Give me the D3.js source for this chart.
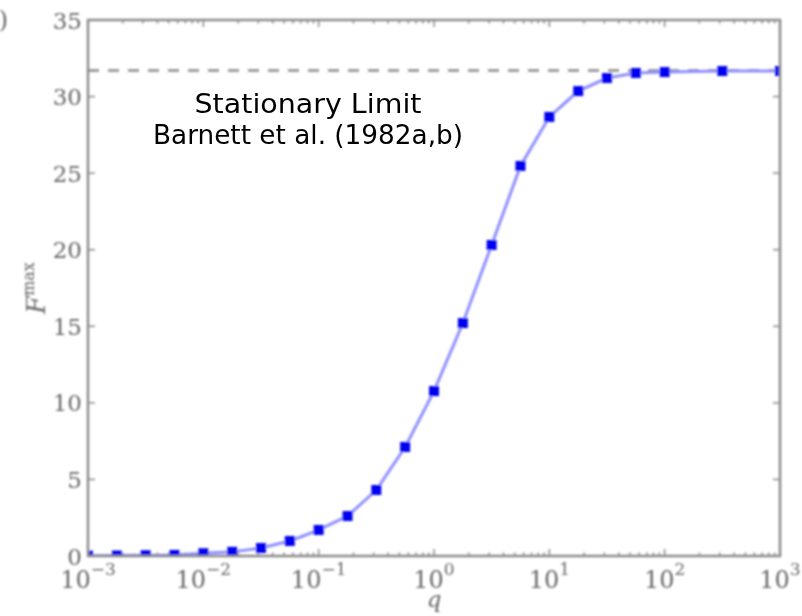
<!DOCTYPE html>
<html>
<head>
<meta charset="utf-8">
<script src="https://cdn.jsdelivr.net/npm/d3@7"></script>
<style>
  html, body { margin: 0; padding: 0; background: #fff; }
  svg { display: block; }
</style>
</head>
<body>
<svg id="chart" width="802" height="616"></svg>
<script>
// Mass ratio q and the maximum value F^max reached at each q
const qValues = [0.001, 0.00178, 0.00316, 0.00562, 0.01, 0.0178, 0.0316, 0.0562,
                 0.1, 0.178, 0.316, 0.562, 1, 1.78, 3.16, 5.62,
                 10, 17.8, 31.6, 56.2, 100, 316, 1000];
const fmaxValues = [0.02, 0.03, 0.05, 0.07, 0.18, 0.27, 0.52, 0.98,
                    1.70, 2.61, 4.31, 7.12, 10.77, 15.21, 20.31, 25.47,
                    28.67, 30.36, 31.21, 31.54, 31.60, 31.67, 31.67];
const stationaryLimit = 31.7;
const yTicks = [0, 5, 10, 15, 20, 25, 30, 35];
const xTickExponents = ["−3", "−2", "−1", "0", "1", "2", "3"];
const xTickValues = [1e-3, 1e-2, 1e-1, 1e0, 1e1, 1e2, 1e3];
const annotationLines = ["Stationary Limit", "Barnett et al. (1982a,b)"];

const svg = d3.select("#chart");
const margin = { left: 88, right: 22, top: 20, bottom: 60 };
const W = 802, H = 616;
const x0 = margin.left, x1 = W - margin.right, y0 = H - margin.bottom, y1 = margin.top;

const x = d3.scaleLog().domain([1e-3, 1e3]).range([x0, x1]);
const y = d3.scaleLinear().domain([0, 35]).range([y0, y1]);

const defs = svg.append("defs");
defs.append("filter").attr("id", "soft")
  .attr("x", "-5%").attr("y", "-5%").attr("width", "110%").attr("height", "110%")
  .append("feGaussianBlur").attr("stdDeviation", 0.9);
defs.append("clipPath").attr("id", "plotArea")
  .append("rect").attr("x", x0).attr("y", y1).attr("width", x1 - x0).attr("height", y0 - y1);

const g = svg.append("g").attr("filter", "url(#soft)");
const axisColor = "#8a8a8a";
const textColor = "#666";

// Minor log ticks (2..9 within each decade)
const minorTicks = [];
for (let e = -3; e < 3; e++) for (let m = 2; m <= 9; m++) minorTicks.push(m * Math.pow(10, e));

// Inward ticks on all four sides
const tickG = g.append("g").attr("stroke", axisColor).attr("stroke-width", 1.5);
xTickValues.forEach(v => {
  tickG.append("line").attr("x1", x(v)).attr("x2", x(v)).attr("y1", y0).attr("y2", y0 - 7);
  tickG.append("line").attr("x1", x(v)).attr("x2", x(v)).attr("y1", y1).attr("y2", y1 + 7);
});
minorTicks.forEach(v => {
  tickG.append("line").attr("x1", x(v)).attr("x2", x(v)).attr("y1", y0).attr("y2", y0 - 3.5);
  tickG.append("line").attr("x1", x(v)).attr("x2", x(v)).attr("y1", y1).attr("y2", y1 + 3.5);
});
yTicks.forEach(v => {
  tickG.append("line").attr("x1", x0).attr("x2", x0 + 7).attr("y1", y(v)).attr("y2", y(v));
  tickG.append("line").attr("x1", x1).attr("x2", x1 - 7).attr("y1", y(v)).attr("y2", y(v));
});

// Stationary limit (dashed)
g.append("line")
  .attr("x1", x0).attr("x2", x1)
  .attr("y1", y(stationaryLimit)).attr("y2", y(stationaryLimit))
  .attr("stroke", "#9c9c9c").attr("stroke-width", 3)
  .attr("stroke-dasharray", "11,9");

// Curve and markers
const data = qValues.map((q, i) => ({ q, f: fmaxValues[i] }));
const plot = g.append("g").attr("clip-path", "url(#plotArea)");
plot.append("path")
  .datum(data)
  .attr("fill", "none")
  .attr("stroke", "#8f8fff")
  .attr("stroke-width", 3)
  .attr("d", d3.line().x(d => x(d.q)).y(d => y(d.f)));
const ms = 10;
plot.selectAll("rect.pt").data(data).join("rect")
  .attr("class", "pt")
  .attr("x", d => x(d.q) - ms / 2).attr("y", d => y(d.f) - ms / 2)
  .attr("width", ms).attr("height", ms)
  .attr("fill", "#0000f0");

// Frame
g.append("rect")
  .attr("x", x0).attr("y", y1).attr("width", x1 - x0).attr("height", y0 - y1)
  .attr("fill", "none").attr("stroke", axisColor).attr("stroke-width", 2.5);

// Y tick labels
g.append("g").selectAll("text").data(yTicks).join("text")
  .attr("x", x0 - 6).attr("y", d => y(d) + 8.5)
  .attr("text-anchor", "end")
  .attr("font-family", "DejaVu Serif").attr("font-size", 23)
  .attr("fill", textColor)
  .text(d => d);

// X tick labels: 10 with a superscript exponent
const xl = g.append("g").selectAll("text").data(xTickValues).join("text")
  .attr("x", d => x(d)).attr("y", 588)
  .attr("text-anchor", "middle")
  .attr("font-family", "DejaVu Serif").attr("font-size", 24)
  .attr("fill", textColor);
xl.append("tspan").text("10");
xl.append("tspan").attr("dy", -13).attr("font-size", 17).text((d, i) => xTickExponents[i]);

// Axis titles
g.append("text")
  .attr("x", x(1)).attr("y", 607)
  .attr("text-anchor", "middle")
  .attr("font-family", "DejaVu Serif").attr("font-style", "italic").attr("font-size", 23)
  .attr("fill", textColor)
  .text("q");

const yl = g.append("text")
  .attr("transform", `translate(45, ${(y0 + y1) / 2}) rotate(-90)`)
  .attr("text-anchor", "middle")
  .attr("font-family", "DejaVu Serif").attr("fill", textColor);
yl.append("tspan").attr("font-style", "italic").attr("font-size", 26).text("F");
yl.append("tspan").attr("dy", -11).attr("font-size", 16).text("max");

// Panel tag, mostly off the left edge
g.append("text")
  .attr("x", 8).attr("y", 28)
  .attr("text-anchor", "end")
  .attr("font-family", "DejaVu Serif").attr("font-size", 24)
  .attr("fill", textColor)
  .text("(b)");

// Annotation (crisp)
const cx = 308;
const lineWidths = [227, 310];
svg.append("g").selectAll("text").data(annotationLines).join("text")
  .attr("x", cx).attr("y", (d, i) => 113 + i * 31)
  .attr("text-anchor", "middle")
  .attr("font-family", "DejaVu Sans").attr("font-size", 27)
  .attr("textLength", (d, i) => lineWidths[i])
  .attr("lengthAdjust", "spacingAndGlyphs")
  .attr("fill", "#000")
  .text(d => d);
</script>
</body>
</html>
